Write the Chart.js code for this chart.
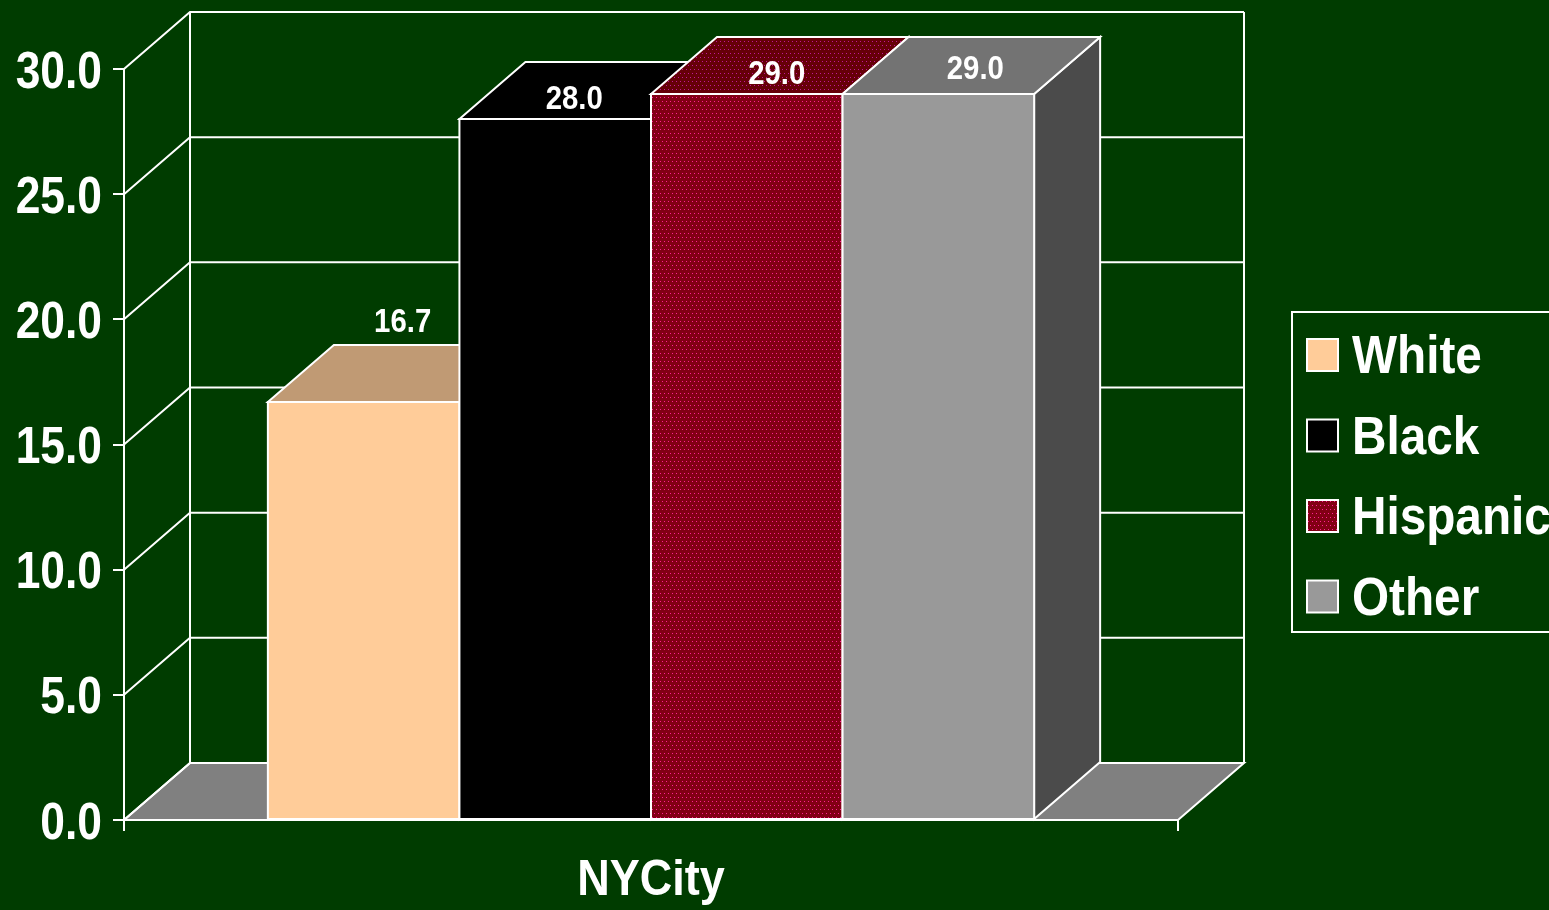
<!DOCTYPE html>
<html><head><meta charset="utf-8">
<script src="https://cdn.jsdelivr.net/npm/chart.js@4/dist/chart.umd.min.js"></script>
<style>html,body{margin:0;padding:0;background:#003c00;overflow:hidden}canvas{display:block}</style>
</head><body>
<canvas id="c" width="1549" height="910"></canvas>
<script>
// ---- data ----
const categories = ['NYCity'];
const seriesNames = ['White', 'Black', 'Hispanic', 'Other'];
const whiteValues = [16.7];
const blackValues = [28.0];
const hispanicValues = [29.0];
const otherValues = [29.0];
const yTickValues = [0, 5, 10, 15, 20, 25, 30];

// ---- styles ----
const FONT = "'Liberation Sans', Arial, sans-serif";
const LINE = '#ffffff';
function dotPattern(base, dot) {
  const c = document.createElement('canvas');
  c.width = 4; c.height = 8;
  const g = c.getContext('2d');
  g.fillStyle = base; g.fillRect(0, 0, 4, 8);
  g.fillStyle = dot; g.fillRect(0, 1, 1, 1); g.fillRect(2, 5, 1, 1);
  return document.getElementById('c').getContext('2d').createPattern(c, 'repeat');
}
const hispFront = dotPattern('#820014', '#ff2096');
const hispTop = dotPattern('#660008', '#c0189a');
const faceStyles = [
  { front: '#ffcc99', top: '#c09a74', side: '#a08060' },
  { front: '#000000', top: '#000000', side: '#000000' },
  { front: hispFront, top: hispTop, side: hispTop },
  { front: '#999999', top: '#737373', side: '#4b4b4b' }
];
const labelOffsets = [[39, -70], [19, -10], [30, -10], [37, -15]];
const DEPTH_X = 66, DEPTH_Y = -57;

function poly(ctx, pts, fill) {
  ctx.beginPath();
  ctx.moveTo(pts[0][0], pts[0][1]);
  for (let k = 1; k < pts.length; k++) ctx.lineTo(pts[k][0], pts[k][1]);
  ctx.closePath();
  ctx.fillStyle = fill; ctx.fill();
  ctx.strokeStyle = LINE; ctx.lineWidth = 2; ctx.lineJoin = 'miter'; ctx.stroke();
}
// condensed bold text (narrow sans look)
function narrowText(ctx, s, x, y, size, align, sx) {
  ctx.save();
  ctx.translate(x, y);
  ctx.scale(sx, 1);
  ctx.font = 'bold ' + size + 'px ' + FONT;
  ctx.fillStyle = '#ffffff';
  ctx.textAlign = align;
  ctx.textBaseline = 'alphabetic';
  ctx.fillText(s, 0, 0);
  ctx.restore();
}

const wallPlugin = {
  id: 'wall3d',
  beforeDatasetsDraw(chart) {
    const ctx = chart.ctx, ys = chart.scales.y, xs = chart.scales.x;
    const L = xs.left, R = xs.right, B = ys.getPixelForValue(0);
    ctx.save();
    poly(ctx, [[L, B], [R, B], [R + DEPTH_X, B + DEPTH_Y], [L + DEPTH_X, B + DEPTH_Y]], '#808080');
    ctx.strokeStyle = LINE; ctx.lineWidth = 2;
    const topY = ys.getPixelForValue(yTickValues[yTickValues.length - 1]) + DEPTH_Y;
    ctx.beginPath();
    yTickValues.forEach(v => {
      const py = ys.getPixelForValue(v);
      ctx.moveTo(L, py); ctx.lineTo(L + DEPTH_X, py + DEPTH_Y);
      ctx.lineTo(R + DEPTH_X, py + DEPTH_Y);
    });
    ctx.moveTo(L + DEPTH_X, topY); ctx.lineTo(L + DEPTH_X, B + DEPTH_Y);
    ctx.moveTo(R + DEPTH_X, topY); ctx.lineTo(R + DEPTH_X, B + DEPTH_Y);
    ctx.stroke();
    ctx.restore();
  },
  afterDatasetsDraw(chart) {
    const ctx = chart.ctx;
    ctx.save();
    const labels = [];
    chart.data.datasets.forEach((ds, i) => {
      const meta = chart.getDatasetMeta(i);
      meta.data.forEach((bar, j) => {
        const p = bar.getProps(['x', 'y', 'base', 'width'], true);
        const l = p.x - p.width / 2, r = p.x + p.width / 2, t = p.y, b = p.base;
        const f = faceStyles[i];
        poly(ctx, [[r, t], [r + DEPTH_X, t + DEPTH_Y], [r + DEPTH_X, b + DEPTH_Y], [r, b]], f.side);
        poly(ctx, [[l, t], [l + DEPTH_X, t + DEPTH_Y], [r + DEPTH_X, t + DEPTH_Y], [r, t]], f.top);
        poly(ctx, [[l, t], [r, t], [r, b], [l, b]], f.front);
        labels.push([ds.data[j].toFixed(1), p.x + labelOffsets[i][0], t + labelOffsets[i][1]]);
      });
    });
    labels.forEach(([s, x, y]) => narrowText(ctx, s, x, y, 33, 'center', 0.89));
    ctx.restore();
  }
};

// axis tick labels and category label drawn from the chart's scales
const axisTextPlugin = {
  id: 'axisText',
  afterDraw(chart) {
    const ctx = chart.ctx, ys = chart.scales.y, xs = chart.scales.x;
    ys.ticks.forEach(t => {
      const py = ys.getPixelForValue(t.value);
      narrowText(ctx, Number(t.value).toFixed(1), ys.right - 22, py + 18.5, 51, 'right', 0.87);
    });
    chart.data.labels.forEach((lab, i) => {
      narrowText(ctx, lab, xs.getPixelForValue(i), 895, 50, 'center', 0.9);
    });
  }
};

const legendPlugin = {
  id: 'legendBox',
  afterDraw(chart) {
    const ctx = chart.ctx;
    ctx.save();
    ctx.strokeStyle = LINE; ctx.lineWidth = 2;
    ctx.strokeRect(1292, 312, 300, 320);
    chart.data.datasets.forEach((ds, i) => {
      const cy = 355 + i * 80.5;
      ctx.fillStyle = faceStyles[i].front;
      ctx.fillRect(1307, cy - 16, 31, 32);
      ctx.strokeStyle = LINE; ctx.lineWidth = 2;
      ctx.strokeRect(1307, cy - 16, 31, 32);
      narrowText(ctx, ds.label, 1352, cy + 18, 53, 'left', 0.9);
    });
    ctx.restore();
  }
};

const seriesValues = [whiteValues, blackValues, hispanicValues, otherValues];
new Chart(document.getElementById('c'), {
  type: 'bar',
  data: {
    labels: categories,
    datasets: seriesNames.map((n, i) => ({
      label: n,
      data: seriesValues[i],
      backgroundColor: faceStyles[i].front,
      barPercentage: 1,
      categoryPercentage: 0.727
    }))
  },
  options: {
    responsive: false,
    animation: false,
    events: [],
    layout: { padding: { left: 0, right: 371, top: 69, bottom: 0 } },
    plugins: { legend: { display: false }, tooltip: { enabled: false } },
    scales: {
      x: {
        afterFit(s) { s.height = 90; },
        grid: { drawOnChartArea: false, drawTicks: true, tickLength: 11, color: LINE, lineWidth: 2, offset: true },
        border: { display: true, color: LINE, width: 2 },
        ticks: { display: false }
      },
      y: {
        min: 0, max: 30,
        afterFit(s) { s.width = 124; },
        afterBuildTicks(s) { s.ticks = yTickValues.map(v => ({ value: v })); },
        grid: { drawOnChartArea: false, drawTicks: true, tickLength: 11, color: LINE, lineWidth: 2 },
        border: { display: true, color: LINE, width: 2 },
        ticks: { display: false }
      }
    }
  },
  plugins: [wallPlugin, axisTextPlugin, legendPlugin]
});
</script>
</body></html>
